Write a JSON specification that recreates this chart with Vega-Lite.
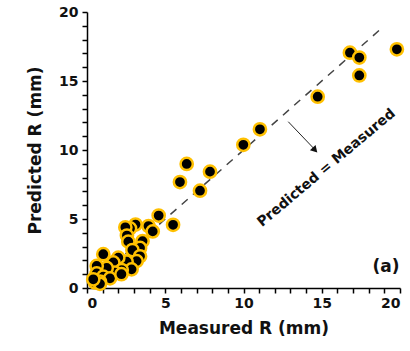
{
  "$schema": "https://vega.github.io/schema/vega-lite/v6.json",
  "width": 313,
  "height": 276,
  "autosize": "none",
  "padding": {"left": 87, "top": 12, "right": 10, "bottom": 63},
  "config": {
    "view": {"stroke": null},
    "font": "DejaVu Sans",
    "axis": {
      "grid": false,
      "domainColor": "black",
      "domainWidth": 1.5,
      "labelOverlap": false,
      "labelFont": "DejaVu Sans",
      "labelFontWeight": "bold",
      "labelFontSize": 14,
      "labelColor": "#111",
      "titleFont": "DejaVu Sans",
      "titleFontWeight": "bold",
      "titleFontSize": 17,
      "titleColor": "#111"
    }
  },
  "datasets": {
    "pts": [
      {"m": 19.8, "p": 17.3}, {"m": 16.8, "p": 17.05}, {"m": 17.4, "p": 16.7}, {"m": 17.4, "p": 15.4},
      {"m": 14.74, "p": 13.86}, {"m": 11.05, "p": 11.5}, {"m": 9.99, "p": 10.38}, {"m": 6.37, "p": 8.99},
      {"m": 5.94, "p": 7.68}, {"m": 7.86, "p": 8.43}, {"m": 7.22, "p": 7.05}, {"m": 4.58, "p": 5.25},
      {"m": 5.5, "p": 4.58}, {"m": 3.93, "p": 4.49}, {"m": 4.2, "p": 4.1}, {"m": 3.1, "p": 4.6},
      {"m": 2.75, "p": 4.32}, {"m": 2.45, "p": 4.4}, {"m": 2.55, "p": 3.8}, {"m": 3.55, "p": 3.4},
      {"m": 2.64, "p": 3.36}, {"m": 3.39, "p": 2.9}, {"m": 2.9, "p": 2.75}, {"m": 3.39, "p": 2.3},
      {"m": 3.17, "p": 1.95}, {"m": 2.53, "p": 1.91}, {"m": 2.85, "p": 1.35}, {"m": 2.0, "p": 2.2},
      {"m": 1.68, "p": 1.85}, {"m": 2.22, "p": 1.3}, {"m": 1.79, "p": 1.12}, {"m": 1.26, "p": 1.45},
      {"m": 1.04, "p": 2.45}, {"m": 0.62, "p": 1.6}, {"m": 0.62, "p": 1.06}, {"m": 1.04, "p": 0.82},
      {"m": 1.47, "p": 0.7}, {"m": 0.83, "p": 0.46}, {"m": 0.51, "p": 0.4}, {"m": 0.83, "p": 0.3},
      {"m": 2.2, "p": 1.0}, {"m": 0.4, "p": 0.63}
    ],
    "diag": [{"m": 0.3, "p": 0.3}, {"m": 18.8, "p": 18.8}],
    "arrow": [{"m": 12.86, "p": 12.05}, {"m": 14.5, "p": 10.1}],
    "head": [{"m": 14.57, "p": 10.0}],
    "lab": [{"m": 15.3, "p": 8.7, "t": "Predicted = Measured"}],
    "tag": [{"m": 19.1, "p": 1.55, "t": "(a)"}]
  },
  "encoding": {
    "x": {"field": "m", "type": "quantitative", "scale": {"domain": [0, 20], "nice": false},
      "axis": {"title": "Measured R (mm)", "tickCount": 20, "ticks": true, "tickSize": 5, "tickWidth": 1.5, "tickColor": "#000", "tickOpacity": 1,
        "labelExpr": "datum.value % 5 == 0 ? datum.label : ''",
        "titlePadding": 10, "labelPadding": 3}},
    "y": {"field": "p", "type": "quantitative", "scale": {"domain": [0, 20], "nice": false},
      "axis": {"title": "Predicted R (mm)", "tickCount": 20, "ticks": true, "tickSize": 5, "tickWidth": 1.5, "tickColor": "#000", "tickOpacity": 1,
        "labelExpr": "datum.value % 5 == 0 ? datum.label : ''",
        "titlePadding": 14, "labelPadding": 4}}
  },
  "layer": [
    {
      "data": {"name": "diag"},
      "mark": {"type": "line", "color": "#444", "strokeDash": [8, 7], "strokeWidth": 1.5}
    },
    {
      "data": {"name": "pts"},
      "mark": {"type": "circle", "size": 150, "opacity": 1, "fill": "black", "stroke": "#FFC000", "strokeWidth": 2.5}
    },
    {
      "data": {"name": "arrow"},
      "mark": {"type": "line", "color": "#222", "strokeWidth": 1}
    },
    {
      "data": {"name": "head"},
      "mark": {"type": "point", "shape": "triangle-down", "filled": true, "color": "#111", "size": 60, "angle": 317, "opacity": 1}
    },
    {
      "data": {"name": "lab"},
      "mark": {"type": "text", "angle": 320, "fontSize": 14, "fontWeight": "bold", "color": "#111", "font": "DejaVu Sans"},
      "encoding": {"text": {"field": "t"}}
    },
    {
      "data": {"name": "tag"},
      "mark": {"type": "text", "fontSize": 17, "fontWeight": "bold", "color": "#111", "font": "DejaVu Sans"},
      "encoding": {"text": {"field": "t"}}
    }
  ]
}
